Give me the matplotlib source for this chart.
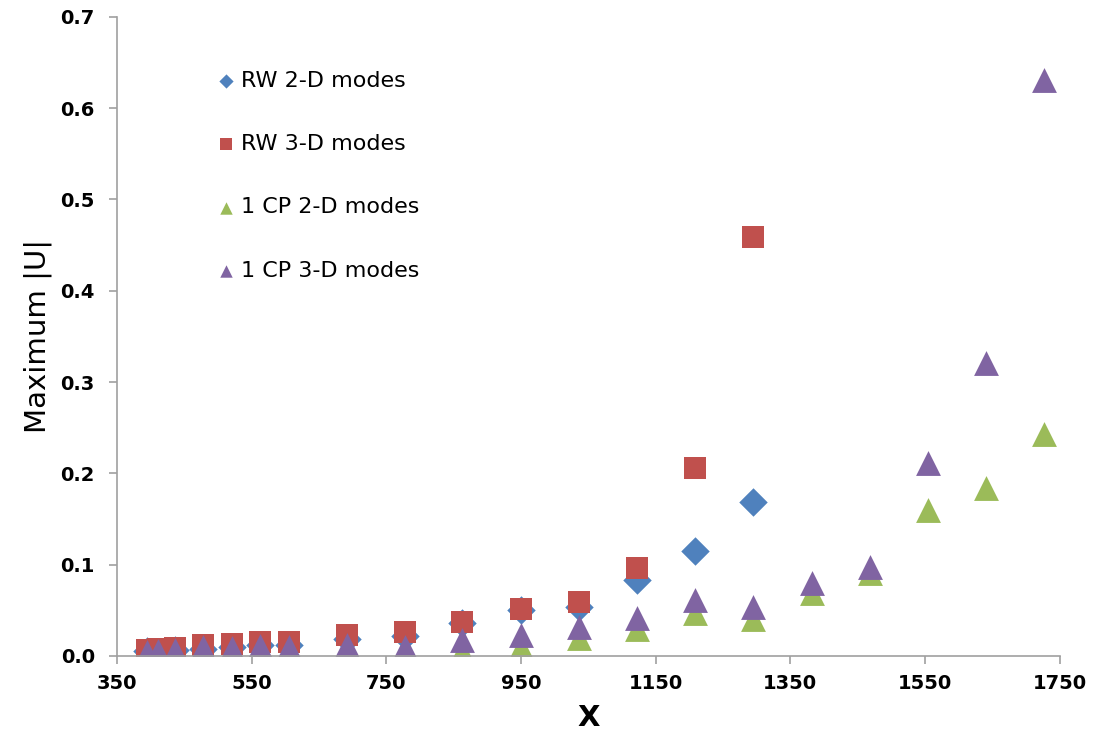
import matplotlib
matplotlib.use("Agg")
import matplotlib.pyplot as plt

# data
rw2d_x = [394, 436, 477, 520, 562, 606, 691, 777, 863, 950, 1036, 1122, 1209, 1295]
rw2d_y = [0.005, 0.006, 0.008, 0.010, 0.012, 0.012, 0.019, 0.022, 0.036, 0.050, 0.054, 0.083, 0.115, 0.169]

rw3d_x = [394, 411, 436, 477, 520, 562, 606, 691, 777, 863, 950, 1036, 1122, 1209, 1295]
rw3d_y = [0.007, 0.008, 0.009, 0.012, 0.013, 0.015, 0.015, 0.023, 0.026, 0.037, 0.052, 0.059, 0.096, 0.206, 0.459]

cp_x = [394, 411, 436, 477, 520, 562, 606, 691, 777, 863, 950, 1036, 1122, 1209, 1295,
        1382, 1468, 1554, 1641, 1727]
cp2d_y = [0.0, 0.0, 0.0, 0.004, 0.001, 0.003, 0.003, 0.004, 0.001, 0.005, 0.010, 0.020, 0.029,
          0.047, 0.041, 0.069, 0.091, 0.160, 0.184, 0.243]
cp3d_y = [0.004, 0.005, 0.006, 0.010, 0.009, 0.011, 0.010, 0.012, 0.010, 0.017, 0.023, 0.032, 0.042,
          0.061, 0.054, 0.080, 0.098, 0.211, 0.321, 0.631]

fig = plt.figure(figsize=(10.97, 7.34), dpi=100)
ax = fig.add_axes([0.1067, 0.1063, 0.8593, 0.8707])

ax.scatter(rw2d_x, rw2d_y, marker="D", s=210, color="#4F81BD", linewidths=0, label="RW 2-D modes")
ax.scatter(rw3d_x, rw3d_y, marker="s", s=260, color="#C0504D", linewidths=0, label="RW 3-D modes")
ax.scatter(cp_x, cp2d_y, marker="^", s=320, color="#9BBB59", linewidths=0, label="1 CP 2-D modes")
ax.scatter(cp_x, cp3d_y, marker="^", s=320, color="#8064A2", linewidths=0, label="1 CP 3-D modes")

ax.set_xlim(350, 1750)
ax.set_ylim(0, 0.7)
ax.set_xticks(range(350, 1751, 200))
ax.set_yticks([0.0, 0.1, 0.2, 0.3, 0.4, 0.5, 0.6, 0.7])
ax.set_yticklabels(["0.0", "0.1", "0.2", "0.3", "0.4", "0.5", "0.6", "0.7"])

for s in ["top", "right"]:
    ax.spines[s].set_visible(False)
for s in ["left", "bottom"]:
    ax.spines[s].set_color("#A0A0A0")
    ax.spines[s].set_linewidth(1.2)
ax.tick_params(axis="both", colors="#A0A0A0", length=6, width=1.2, direction="out")
for lab in ax.get_xticklabels() + ax.get_yticklabels():
    lab.set_color("black")
    lab.set_fontweight("bold")
    lab.set_fontsize(14)
ax.tick_params(axis="x", pad=7)
ax.tick_params(axis="y", pad=10)

ax.set_xlabel("X", fontsize=21, fontweight="bold", labelpad=8)
ax.set_ylabel("Maximum |U|", fontsize=21, family="Liberation Sans Narrow", labelpad=6)

leg = ax.legend(loc="upper left", bbox_to_anchor=(0.08, 0.947), frameon=False, fontsize=16,
                labelspacing=1.95, handlelength=1.2, handletextpad=0.1, markerscale=0.5,
                scatterpoints=1)

fig.savefig("out.png", dpi=100)
